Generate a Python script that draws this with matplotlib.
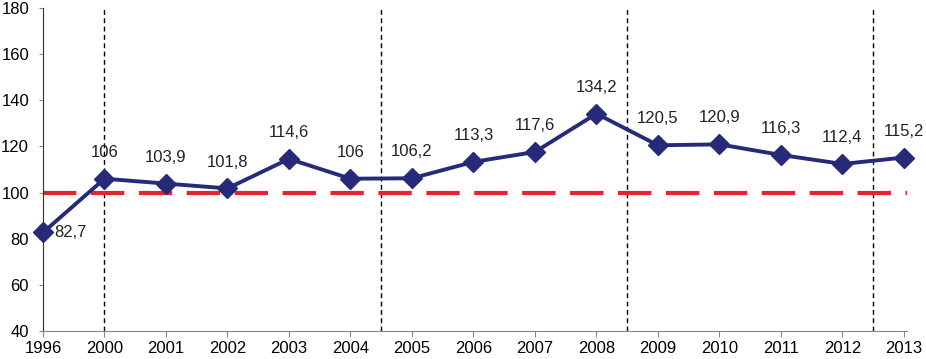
import matplotlib.pyplot as plt
import numpy as np

plt.rcParams["font.family"] = ["Liberation Sans", "DejaVu Sans"]

# Данные
years = ["1996", "2000", "2001", "2002", "2003", "2004", "2005", "2006",
         "2007", "2008", "2009", "2010", "2011", "2012", "2013"]
values = [82.7, 106, 103.9, 101.8, 114.6, 106, 106.2, 113.3,
          117.6, 134.2, 120.5, 120.9, 116.3, 112.4, 115.2]
labels = ["82,7", "106", "103,9", "101,8", "114,6", "106", "106,2", "113,3",
          "117,6", "134,2", "120,5", "120,9", "116,3", "112,4", "115,2"]
baseline = 100
separators = [1, 5.5, 9.5, 13.5]

x = np.arange(len(years))

fig = plt.figure(figsize=(9.26, 3.59), dpi=100)
ax = fig.add_axes([43 / 926, 28 / 359, 864 / 926, 323 / 359])

# вертикальные разделители
for s in separators:
    ax.axvline(s, color="black", lw=1, linestyle=(0, (3.5, 2.5)), zorder=1)

# линия 100
ax.axhline(baseline, color="#E8232B", lw=3, linestyle=(0, (8, 3.5)), zorder=2)

ax.plot(x, values, color="#262A78", lw=2.8, marker="D", markersize=10,
        zorder=3, clip_on=False)

for i, (v, t) in enumerate(zip(values, labels)):
    if i == 0:
        ax.annotate(t, (x[i], v), xytext=(8, 0), textcoords="offset points",
                    ha="left", va="center", fontsize=12, color="#222222")
    else:
        ax.annotate(t, (x[i], v), xytext=(0, 19), textcoords="offset points",
                    ha="center", va="center", fontsize=12, color="#222222")

ax.set_xlim(0, 14.05)
ax.set_ylim(40, 180)
ax.set_yticks(range(40, 181, 20))
ax.set_xticks(x)
ax.set_xticklabels(years)

for side in ["top", "right"]:
    ax.spines[side].set_visible(False)
ax.spines["left"].set_color("#333333")
ax.spines["bottom"].set_color("#888888")
ax.tick_params(axis="y", direction="out", length=3, color="#888888",
               labelsize=12, pad=7)
ax.tick_params(axis="x", direction="out", length=4, color="#888888",
               labelsize=12, pad=3)

plt.savefig("out.png", dpi=100)
